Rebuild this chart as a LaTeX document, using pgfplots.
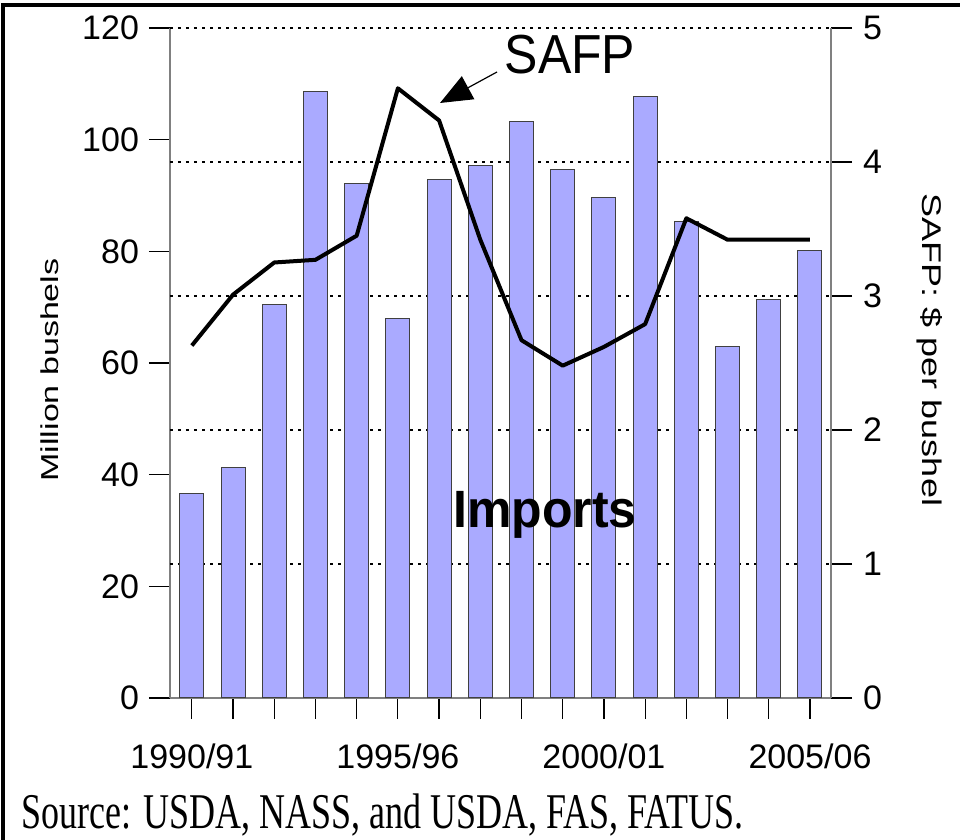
\documentclass[border=0pt]{standalone}
\usepackage{pgfplots}
\pgfplotsset{compat=1.18}
\usepackage{fontspec}
\setmainfont{Liberation Sans}
\newfontfamily\seriffont{Liberation Serif}
\usetikzlibrary{arrows.meta}
\definecolor{barblue}{RGB}{170,170,255}

\begin{document}
\begin{tikzpicture}[x=1pt,y=1pt]
\path[use as bounding box] (0,0) rectangle (480,420);
\pgfplotsset{
  common/.style={
    width=330.5pt, height=335pt, scale only axis,
    at={(85pt,71pt)}, anchor=south west,
    xmin=-0.53, xmax=15.51,
    tick align=outside, major tick length=10.5pt,
    axis line style={draw=gray, line width=0.9pt},
    every tick/.style={black, line width=0.6pt},
    tick label style={font=\fontsize{17pt}{20pt}\selectfont},
    /pgf/number format/assume math mode=true,
  }
}
\begin{axis}[common,
  axis x line*=bottom, axis y line*=left,
  ymin=0, ymax=120, ytick={0,20,...,120},
  xtick={0,...,15},
  xticklabels={1990/91,,,,,1995/96,,,,,2000/01,,,,,2005/06},
  xticklabel style={yshift=-9pt},
  yticklabel style={xshift=-1.5pt},
  extra y ticks={24,48,72,96,120}, extra y tick labels={},
  extra y tick style={grid=major, major tick length=0pt,
    major grid style={black, line width=1.3pt, dash pattern=on 1.3pt off 2.7pt}},
]
\addplot[ybar, bar width=12pt, fill=barblue, draw=black!75, line width=0.5pt]
coordinates {
(0,36.7) (1,41.2) (2,70.4) (3,108.7) (4,92.2) (5,67.9) (6,92.8) (7,95.3)
(8,103.3) (9,94.6) (10,89.7) (11,107.8) (12,85.4) (13,63.0) (14,71.3) (15,80.1)
};
\end{axis}
\begin{axis}[common,
  axis x line=none, axis y line*=right,
  ymin=0, ymax=5, ytick={0,...,5},
  yticklabel style={xshift=2pt},
]
\addplot[black, line width=2pt, line join=round, mark=none]
coordinates {
(0,2.63) (1,3.01) (2,3.25) (3,3.27) (4,3.45) (5,4.55) (6,4.31) (7,3.42)
(8,2.67) (9,2.48) (10,2.62) (11,2.79) (12,3.58) (13,3.42) (14,3.42) (15,3.42)
};
\end{axis}
% annotations
\node at (285,392.5) {\scalebox{1}[1.1]{\fontsize{25pt}{28pt}\selectfont SAFP}};
\draw[line width=0.6pt, -{Triangle[length=16pt,width=13pt]}] (248.5,384) -- (220,368.5);
\node at (272.5,162.5) {\scalebox{1}[1.05]{\fontsize{25pt}{28pt}\selectfont\bfseries Imports}};
\node[rotate=90] at (25,235) {\scalebox{1}[0.72]{\fontsize{17pt}{20pt}\selectfont Million bushels}};
\node[rotate=-90] at (465,245) {\scalebox{1}[0.75]{\fontsize{18pt}{20pt}\selectfont SAFP: \$ per bushel}};
\node[anchor=west] at (7,12.5) {\scalebox{0.72}[1]{\seriffont\fontsize{25pt}{28pt}\selectfont Source: USDA, NASS, and USDA, FAS, FATUS.}};
% frame
\draw[line width=1.6pt] (1.5,0) -- (1.5,417.5) -- (480,417.5);
\end{tikzpicture}
\end{document}
